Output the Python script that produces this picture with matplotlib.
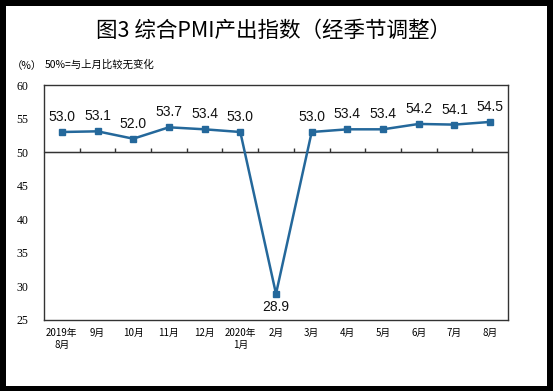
import matplotlib
matplotlib.use("Agg")
import matplotlib.pyplot as plt
from matplotlib.patches import Rectangle

categories = ["2019年\n8月", "9月", "10月", "11月", "12月", "2020年\n1月", "2月",
              "3月", "4月", "5月", "6月", "7月", "8月"]
values = [53.0, 53.1, 52.0, 53.7, 53.4, 53.0, 28.9, 53.0, 53.4, 53.4, 54.2, 54.1, 54.5]
yticks = [25, 30, 35, 40, 45, 50, 55, 60]

W, H = 553, 391
fig = plt.figure(figsize=(W / 100, H / 100), dpi=100, facecolor="black")
fig.patches.append(Rectangle((6 / W, 5 / H), 541 / W, 380 / H, transform=fig.transFigure,
                             facecolor="white", edgecolor="none", zorder=-10))

ax = fig.add_axes([44 / W, 71 / H, 464 / W, 235 / H])
ax.set_zorder(5)
ax.set_facecolor("white")
x = list(range(len(values)))
color = "#24689B"
ax.plot(x, values, color=color, lw=1.8, marker="s", ms=4.5, zorder=3)

ax.set_xlim(-0.5, len(values) - 0.5)
ax.set_ylim(25, 60)
ax.set_yticks(yticks)
ax.set_yticklabels([str(v) for v in yticks], family="Liberation Serif", fontsize=8.5)
ax.tick_params(axis="y", length=0, pad=11)
ax.set_xticks(x)
ax.set_xticklabels(categories, family=["Noto Sans CJK SC", "DejaVu Sans"], fontsize=7,
                   linespacing=1.25)
ax.tick_params(axis="x", length=0, pad=6)
for s in ax.spines.values():
    s.set_color("#333333")
    s.set_linewidth(1.0)

# baseline at 50 with boundary ticks
ax.axhline(50, color="#333333", lw=1.0, zorder=2)
sec = ax.secondary_xaxis((50 - 25) / (60 - 25))
sec.set_xticks([i + 0.5 for i in range(len(values) - 1)])
sec.set_xticklabels([])
sec.tick_params(axis="x", direction="out", length=3, color="#333333", width=1)
sec.spines["bottom"].set_visible(False)

for xi, v in zip(x, values):
    off = (0, -13) if v < 50 else (0, 15)
    ax.annotate(f"{v:.1f}", (xi, v), xytext=off, textcoords="offset pixels",
                ha="center", va="center", family="Liberation Sans", fontsize=10, color="#111111")

fig.text(0.495, 1 - 31 / H, "图3 综合PMI产出指数（经季节调整）", ha="center", va="center",
         family=["Noto Sans CJK SC", "DejaVu Sans"], fontsize=15.5, fontweight="medium")
fig.text(12 / W, 1 - 66 / H, "（%）", ha="left", va="center",
         family=["Noto Sans CJK SC", "DejaVu Sans"], fontsize=7.5)
fig.text(45 / W, 1 - 65 / H, "50%=与上月比较无变化", ha="left", va="center",
         family=["Noto Sans CJK SC", "DejaVu Sans"], fontsize=7.5)

fig.savefig("out.png", dpi=100, facecolor="black")
